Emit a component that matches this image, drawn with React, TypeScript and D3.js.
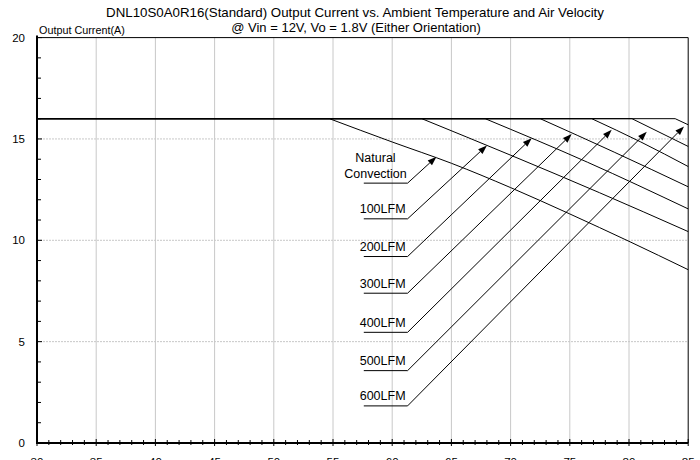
import React from "react";
import * as d3 from "d3";

// ---- data ----
const xTicks = [30, 35, 40, 45, 50, 55, 60, 65, 70, 75, 80, 85];
const yTicks = [0, 5, 10, 15, 20];

const naturalT = [30, 54.7, 60, 65, 70, 75, 80, 85];
const naturalI = [16, 16, 14.85, 13.8, 12.6, 11.3, 9.95, 8.55];
const lfm100T = [30, 62.5, 70, 77.5, 85];
const lfm100I = [16, 16, 14.2, 12.35, 10.43];
const lfm200T = [30, 67.85, 76.5, 85];
const lfm200I = [16, 16, 13.85, 11.55];
const lfm300T = [30, 72.5, 78.75, 85];
const lfm300I = [16, 16, 14.35, 12.64];
const lfm400T = [30, 76.85, 81, 85];
const lfm400I = [16, 16, 14.85, 13.64];
const lfm500T = [30, 80.25, 85];
const lfm500I = [16, 16, 14.63];
const lfm600T = [30, 83.9, 85];
const lfm600I = [16, 16, 15.7];

const seriesT = [naturalT, lfm100T, lfm200T, lfm300T, lfm400T, lfm500T, lfm600T];
const seriesI = [naturalI, lfm100I, lfm200I, lfm300I, lfm400I, lfm500I, lfm600I];

// annotation labels (lines of text), underline level (A), arrow tip (°C, A)
const labelText = [["Natural", "Convection"], ["100LFM"], ["200LFM"], ["300LFM"], ["400LFM"], ["500LFM"], ["600LFM"]];
const labelLevel = [12.82, 11.06, 9.2, 7.39, 5.46, 3.57, 1.83];
const tipT = [63.74, 68.0, 71.78, 75.16, 78.54, 81.5, 84.65];
const tipI = [14.12, 14.68, 15.04, 15.24, 15.45, 15.35, 15.62];
const underlineT0 = 57.6;
const underlineT1 = 61.3;

const title1 = "DNL10S0A0R16(Standard) Output Current vs. Ambient Temperature and Air Velocity";
const title2 = "@ Vin = 12V, Vo = 1.8V (Either Orientation)";
const yTitle = "Output Current(A)";

const FONT = "'Liberation Sans', Arial, Helvetica, sans-serif";

export default function App() {
  const W = 700, H = 460;
  const x = d3.scaleLinear().domain([30, 85]).range([37, 688.2]);
  const y = d3.scaleLinear().domain([0, 20]).range([443, 37.6]);

  const minorX = d3.range(30, 85.01, 1);
  const minorY = d3.range(0, 20.01, 1);

  const lineGen = d3
    .line<[number, number]>()
    .x((d) => x(d[0]))
    .y((d) => y(d[1]))
    .curve(d3.curveMonotoneX);

  const paths = seriesT.map((ts, si) => {
    const is = seriesI[si];
    const decl: [number, number][] = ts.slice(1).map((t, i) => [t, is[i + 1]]);
    const d = lineGen(decl) || "";
    return `M${x(ts[0])},${y(is[0])}L` + d.slice(1);
  });

  const x0 = x(30), x1 = x(85), yTop = y(20), yBot = y(0);

  return (
    <svg
      width={W}
      height={H}
      style={{ position: "absolute", left: 0, top: 0, overflow: "hidden", background: "#fff" }}
      fontFamily={FONT}
    >
      <rect x={0} y={0} width={W} height={H} fill="#fff" />
      {/* titles */}
      <text x={355} y={16.5} textAnchor="middle" fontSize={13.3} fill="#000">{title1}</text>
      <text x={356} y={31.5} textAnchor="middle" fontSize={13} fill="#000">{title2}</text>
      <text x={39} y={34} fontSize={10.8} fill="#000">{yTitle}</text>

      {/* grid */}
      {xTicks.slice(1, -1).map((t) => (
        <line key={"gx" + t} x1={x(t)} x2={x(t)} y1={yTop} y2={yBot} stroke="#c8c8c8" strokeWidth={1} />
      ))}
      {yTicks.slice(1, -1).map((v) => (
        <line key={"gy" + v} x1={x0} x2={x1} y1={y(v)} y2={y(v)} stroke="#c8c8c8" strokeWidth={1} strokeDasharray="2,1" />
      ))}

      {/* frame */}
      <line x1={x0} x2={x1} y1={yTop} y2={yTop} stroke="#000" strokeWidth={1} />
      <line x1={x1} x2={x1} y1={yTop} y2={yBot} stroke="#000" strokeWidth={1} />

      {/* y ticks */}
      {minorY.map((v) => (
        <line key={"ty" + v} x1={x0} x2={x0 + (v % 5 === 0 ? 5 : 4)} y1={y(v)} y2={y(v)} stroke="#000" strokeWidth={1} />
      ))}
      {yTicks.map((v) => (
        <text key={"ly" + v} x={25} y={y(v)} dy="0.35em" textAnchor="end" fontSize={11.5} fill="#000">{v}</text>
      ))}

      {/* x ticks */}
      {minorX.map((t) => (
        <line key={"tx" + t} x1={x(t)} x2={x(t)} y1={yBot - (t % 5 === 0 ? 4 : 3)} y2={yBot + (t % 5 === 0 ? 3 : 2)} stroke="#000" strokeWidth={1} />
      ))}
      {xTicks.map((t) => (
        <text key={"lx" + t} x={x(t)} y={465.5} textAnchor="middle" fontSize={11.5} fill="#000">{t}</text>
      ))}

      {/* axes */}
      <line x1={x0} x2={x0} y1={yTop - 2} y2={yBot + 1} stroke="#000" strokeWidth={2} />
      <line x1={x0 - 1} x2={x1} y1={yBot} y2={yBot} stroke="#000" strokeWidth={2} />

      {/* curves */}
      {paths.map((d, i) => (
        <path key={"c" + i} d={d} fill="none" stroke="#000" strokeWidth={1} />
      ))}

      {/* annotations */}
      {labelText.map((lines, i) => {
        const uy = y(labelLevel[i]);
        const ux0 = x(underlineT0), ux1 = x(underlineT1);
        const tx = x(tipT[i]), ty = y(tipI[i]);
        const dx = tx - ux1, dy = ty - uy;
        const len = Math.sqrt(dx * dx + dy * dy);
        const ux = dx / len, uyv = dy / len;
        const hl = 9, hw = 3.2;
        const bx = tx - ux * hl, by = ty - uyv * hl;
        const head = `M${tx},${ty}L${bx - uyv * hw},${by + ux * hw}L${bx + uyv * hw},${by - ux * hw}Z`;
        const textX = lines.length > 1 ? 375.5 : x(underlineT1) - 2;
        const anchor = lines.length > 1 ? "middle" : "end";
        return (
          <g key={"a" + i}>
            {lines.map((s, k) => (
              <text
                key={k}
                x={textX}
                y={uy - 5.5 - (lines.length - 1 - k) * 15.3}
                textAnchor={anchor}
                fontSize={12.5}
                fill="#000"
              >
                {s}
              </text>
            ))}
            <line x1={ux0} x2={ux1} y1={uy} y2={uy} stroke="#000" strokeWidth={1} />
            <line x1={ux1} y1={uy} x2={bx} y2={by} stroke="#000" strokeWidth={1} />
            <path d={head} fill="#000" />
          </g>
        );
      })}
    </svg>
  );
}
